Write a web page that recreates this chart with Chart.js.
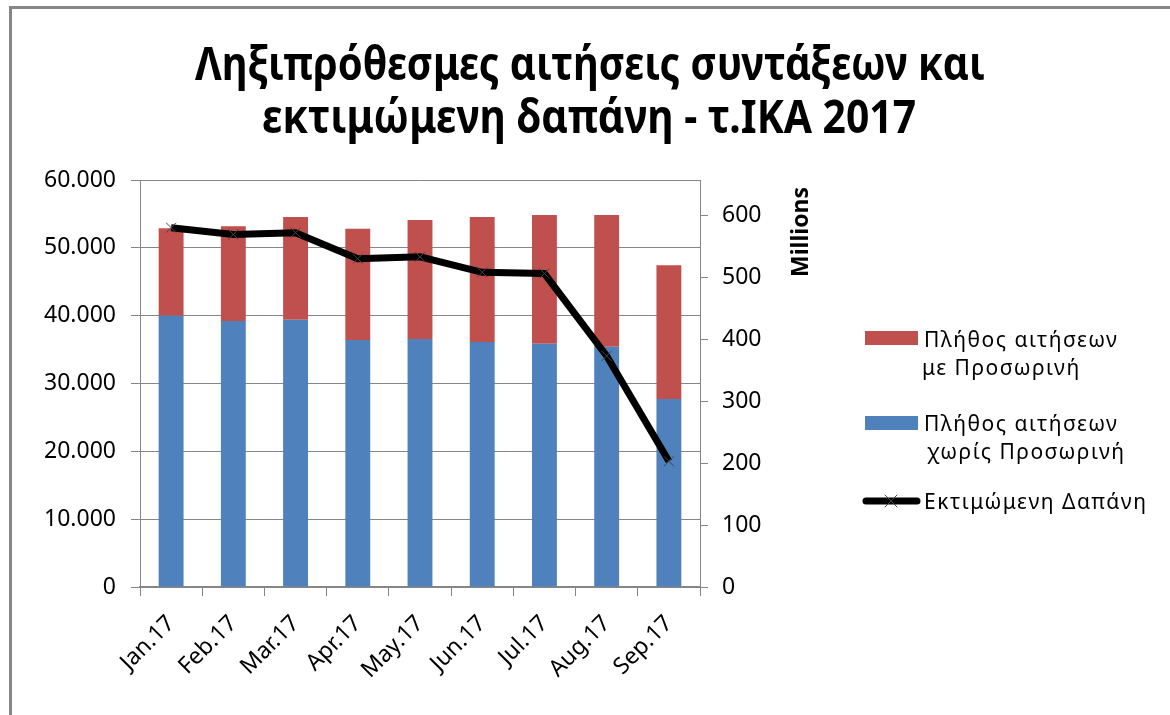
<!DOCTYPE html>
<html>
<head>
<meta charset="utf-8">
<script src="https://cdn.jsdelivr.net/npm/chart.js@4.4.1/dist/chart.umd.min.js"></script>
<style>
  body { margin: 0; background: #fff; }
  #wrap { width: 1170px; height: 715px; }
</style>
</head>
<body>
<div id="wrap"><canvas id="costChart" width="1170" height="715"></canvas></div>
<script>
const months = ["Jan.17", "Feb.17", "Mar.17", "Apr.17", "May.17", "Jun.17", "Jul.17", "Aug.17", "Sep.17"];
// requests without provisional pension (blue, bottom of stack)
const withoutProvisional = [40000, 39200, 39400, 36400, 36550, 36100, 35850, 35400, 27700];
// requests with provisional pension (red, top of stack)
const withProvisional = [12900, 14000, 15150, 16400, 17550, 18450, 19000, 19450, 19750];
// estimated cost, millions
const estimatedCost = [580, 569, 572, 530, 533, 508, 506, 373, 203];

const titleLines = ["Ληξιπρόθεσμες αιτήσεις συντάξεων και", "εκτιμώμενη δαπάνη - τ.ΙΚΑ 2017"];
const leftTicks = [0, 10000, 20000, 30000, 40000, 50000, 60000];
const rightTicks = [0, 100, 200, 300, 400, 500, 600];

const FONT = '"Noto Sans", "Open Sans", sans-serif';
const GRID = "#868686";

const decor = {
  id: "decor",
  beforeDraw(chart) {
    const ctx = chart.ctx;
    ctx.save();
    ctx.fillStyle = "#fff";
    ctx.fillRect(0, 0, chart.width, chart.height);
    ctx.fillStyle = "#868686";
    ctx.fillRect(9, 6, chart.width - 9, 3);
    ctx.fillRect(9, 6, 3, chart.height - 6);
    ctx.restore();
  },
  afterDraw(chart) {
    const ctx = chart.ctx;
    ctx.save();

    // title, squeezed to the width of the original
    ctx.fillStyle = "#000";
    ctx.textAlign = "center";
    ctx.textBaseline = "alphabetic";
    ctx.font = "bold 47px " + FONT;
    const targets = [[590, 80, 790], [589, 133, 654]];
    titleLines.forEach((t, i) => {
      const [cx, by, w] = targets[i];
      const sx = Math.min(1, w / ctx.measureText(t).width);
      ctx.save();
      ctx.translate(cx, by);
      ctx.scale(sx, 1);
      ctx.fillText(t, 0, 0);
      ctx.restore();
    });

    // secondary axis unit label
    ctx.save();
    ctx.translate(801, 232);
    ctx.rotate(-Math.PI / 2);
    ctx.font = "bold 23px " + FONT;
    ctx.textAlign = "center";
    ctx.textBaseline = "middle";
    ctx.fillText("Millions", 0, 0);
    ctx.restore();

    // legend
    const ds = chart.data.datasets;
    ctx.font = "21px " + FONT;
    ctx.textAlign = "left";
    ctx.textBaseline = "alphabetic";
    ctx.letterSpacing = "1.5px";
    const items = [
      { d: ds[1], y: 331, lines: [[924, 347], [922, 375]] },
      { d: ds[0], y: 416, lines: [[924, 431], [927, 459]] }
    ];
    items.forEach(it => {
      ctx.fillStyle = it.d.backgroundColor;
      ctx.fillRect(865, it.y, 53, 14);
      ctx.fillStyle = "#000";
      it.d.label.split("\n").forEach((s, i) => ctx.fillText(s, it.lines[i][0], it.lines[i][1]));
    });
    const ln = ds[2];
    ctx.strokeStyle = ln.borderColor;
    ctx.lineWidth = 7;
    ctx.lineCap = "round";
    ctx.beginPath();
    ctx.moveTo(866, 501);
    ctx.lineTo(917, 501);
    ctx.stroke();
    ctx.strokeStyle = "#444";
    ctx.lineWidth = 1;
    ctx.beginPath();
    ctx.moveTo(885, 495); ctx.lineTo(897, 507);
    ctx.moveTo(897, 495); ctx.lineTo(885, 507);
    ctx.stroke();
    ctx.fillStyle = "#000";
    ctx.fillText(ln.label, 924, 509);
    ctx.restore();
  }
};

new Chart(document.getElementById("costChart"), {
  type: "bar",
  data: {
    labels: months,
    datasets: [
      {
        label: "Πλήθος αιτήσεων\nχωρίς Προσωρινή",
        data: withoutProvisional,
        backgroundColor: "#4F81BD",
        stack: "s",
        yAxisID: "y",
        order: 1,
        barPercentage: 0.8,
        categoryPercentage: 0.5
      },
      {
        label: "Πλήθος αιτήσεων\nμε Προσωρινή",
        data: withProvisional,
        backgroundColor: "#C0504D",
        stack: "s",
        yAxisID: "y",
        order: 1,
        barPercentage: 0.8,
        categoryPercentage: 0.5
      },
      {
        type: "line",
        label: "Εκτιμώμενη Δαπάνη",
        data: estimatedCost,
        yAxisID: "y1",
        borderColor: "#000",
        borderWidth: 7,
        tension: 0,
        pointStyle: "crossRot",
        pointRadius: 7,
        pointBorderWidth: 1,
        pointBorderColor: "#444",
        order: 0
      }
    ]
  },
  options: {
    responsive: false,
    animation: false,
    devicePixelRatio: 1,
    layout: { padding: { top: 180, left: 0, right: 0, bottom: 0 } },
    plugins: {
      legend: { display: false },
      title: { display: false },
      tooltip: { enabled: false }
    },
    scales: {
      x: {
        stacked: true,
        afterFit: s => { s.height = 128; },
        grid: { offset: true, drawOnChartArea: false, tickLength: 9, color: GRID, lineWidth: 1 },
        border: { color: GRID, width: 2 },
        ticks: {
          color: "#000",
          font: { family: FONT, size: 23 },
          maxRotation: 45,
          minRotation: 45,
          padding: 14
        }
      },
      y: {
        stacked: true,
        position: "left",
        min: 0,
        max: 60000,
        afterFit: s => { s.width = 140; },
        afterBuildTicks: s => { s.ticks = leftTicks.map(v => ({ value: v })); },
        grid: { color: GRID, lineWidth: 1, tickLength: 9 },
        border: { color: GRID, width: 1 },
        ticks: {
          color: "#000",
          font: { family: FONT, size: 23 },
          padding: 15,
          callback: v => v.toLocaleString("de-DE")
        }
      },
      y1: {
        position: "right",
        min: 0,
        max: 657,
        afterFit: s => { s.width = 470; },
        afterBuildTicks: s => { s.ticks = rightTicks.map(v => ({ value: v })); },
        grid: { drawOnChartArea: false, color: GRID, lineWidth: 1, tickLength: 8 },
        border: { color: GRID, width: 1 },
        ticks: {
          color: "#000",
          font: { family: FONT, size: 23 },
          padding: 14
        }
      }
    }
  },
  plugins: [decor]
});
</script>
</body>
</html>
